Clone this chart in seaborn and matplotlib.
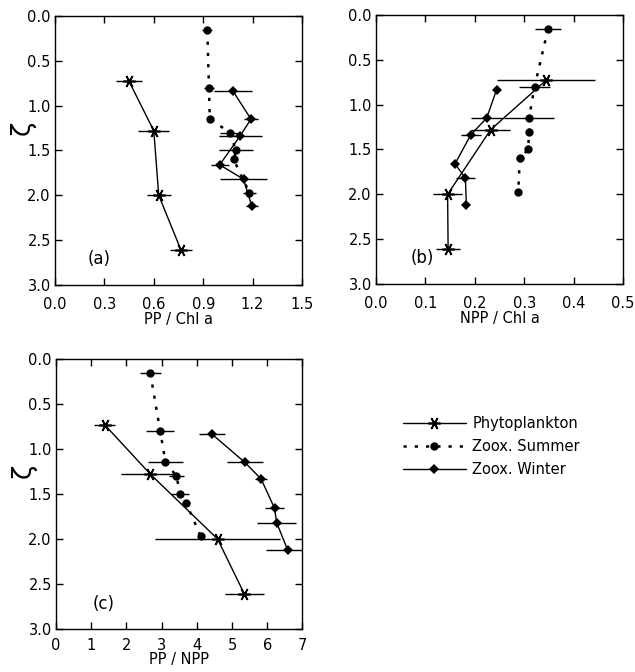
import matplotlib
matplotlib.use("Agg")
import matplotlib.pyplot as plt
import seaborn as sns
import pandas as pd

# Normalised depth (zeta) of each sampling level
phyto_z = [0.73, 1.28, 2.00, 2.61]
summer_z = [0.16, 0.80, 1.145, 1.30, 1.50, 1.60, 1.97]
winter_z = [0.835, 1.15, 1.335, 1.66, 1.82, 2.12]

# (a) PP / Chl a
a_phyto = [0.45, 0.60, 0.63, 0.765]
a_phyto_err = [0.08, 0.095, 0.073, 0.067]
a_summer = [0.925, 0.935, 0.94, 1.06, 1.10, 1.085, 1.18]
a_summer_err = [0.03, 0.03, 0.0, 0.06, 0.105, 0.0, 0.04]
a_winter = [1.08, 1.19, 1.125, 1.0, 1.145, 1.195]
a_winter_err = [0.115, 0.04, 0.13, 0.055, 0.14, 0.035]

# (b) NPP / Chl a
b_phyto = [0.344, 0.232, 0.145, 0.146]
b_phyto_err = [0.10, 0.04, 0.03, 0.025]
b_summer = [0.348, 0.321, 0.310, 0.310, 0.308, 0.291, 0.288]
b_summer_err = [0.026, 0.031, 0.05, 0.004, 0.0, 0.008, 0.0]
b_winter = [0.244, 0.224, 0.192, 0.160, 0.181, 0.183]
b_winter_err = [0.005, 0.031, 0.02, 0.007, 0.02, 0.0]

# (c) PP / NPP
c_phyto = [1.38, 2.68, 4.59, 5.35]
c_phyto_err = [0.31, 0.82, 1.78, 0.55]
c_summer = [2.68, 2.96, 3.11, 3.42, 3.53, 3.70, 4.11]
c_summer_err = [0.29, 0.40, 0.50, 0.22, 0.26, 0.12, 0.0]
c_winter = [4.43, 5.37, 5.83, 6.21, 6.27, 6.58]
c_winter_err = [0.36, 0.50, 0.17, 0.27, 0.56, 0.60]

series_names = ["Phytoplankton", "Zoox. Summer", "Zoox. Winter"]

panels = [
    dict(tag="(a)", xlabel="PP / Chl a", xlim=(0, 1.5),
         xticks=[0.0, 0.3, 0.6, 0.9, 1.2, 1.5], fmt="{:.1f}", tagpos=(0.27, 2.71),
         pad=9, labelpad=0,
         data=[(a_phyto, a_phyto_err), (a_summer, a_summer_err), (a_winter, a_winter_err)]),
    dict(tag="(b)", xlabel="NPP / Chl a", xlim=(0, 0.5),
         xticks=[0.0, 0.1, 0.2, 0.3, 0.4, 0.5], fmt="{:.1f}", tagpos=(0.093, 2.71),
         pad=9, labelpad=0,
         data=[(b_phyto, b_phyto_err), (b_summer, b_summer_err), (b_winter, b_winter_err)]),
    dict(tag="(c)", xlabel="PP / NPP", xlim=(0, 7),
         xticks=[0, 1, 2, 3, 4, 5, 6, 7], fmt="{:d}", tagpos=(1.35, 2.72),
         pad=6.5, labelpad=-0.5,
         data=[(c_phyto, c_phyto_err), (c_summer, c_summer_err), (c_winter, c_winter_err)]),
]

yticks = [0.0, 0.5, 1.0, 1.5, 2.0, 2.5, 3.0]

sns.set_style("ticks")
plt.rcParams["font.family"] = ["DejaVu Sans"]
plt.rcParams["xtick.direction"] = "in"
plt.rcParams["ytick.direction"] = "in"
plt.rcParams["text.color"] = "black"
plt.rcParams["axes.labelcolor"] = "black"
plt.rcParams["xtick.color"] = "black"
plt.rcParams["ytick.color"] = "black"
plt.rcParams["axes.edgecolor"] = "black"

styles = [
    dict(marker=(6, 2, 90), markersize=9, linestyle="-", linewidth=1.0,
         markeredgewidth=1.2),
    dict(marker="o", markersize=6, linestyle=(0, (1.3, 3.2)), linewidth=1.8,
         markeredgewidth=0),
    dict(marker="D", markersize=5, linestyle="-", linewidth=1.0,
         markeredgewidth=0),
]
depths = [phyto_z, summer_z, winter_z]

fig = plt.figure(figsize=(6.35, 6.72), dpi=100)
positions = [
    [0.0866, 0.5759, 0.389, 0.4003],
    [0.5921, 0.5774, 0.389, 0.4003],
    [0.0882, 0.0640, 0.388, 0.4018],
]

handles = None
for pos, p in zip(positions, panels):
    ax = fig.add_axes(pos)
    for (xv, xe), z, name, st in zip(p["data"], depths, series_names, styles):
        df = pd.DataFrame({"x": xv, "z": z})
        ax.errorbar(xv, z, xerr=xe, fmt="none", ecolor="black",
                    elinewidth=1.0, capsize=0)
        sns.lineplot(data=df, x="x", y="z", sort=False, estimator=None,
                     color="black", markeredgecolor="black", label=name,
                     ax=ax, **st)
    if handles is None:
        handles, labels = ax.get_legend_handles_labels()
    ax.get_legend().remove()

    ax.set_xlim(*p["xlim"])
    ax.set_ylim(3.0, 0.0)
    ax.set_xticks(p["xticks"])
    ax.set_xticklabels([p["fmt"].format(t) for t in p["xticks"]])
    ax.set_yticks(yticks)
    ax.set_yticklabels([f"{t:.1f}" for t in yticks])
    ax.tick_params(axis="both", which="major", length=5, width=1.0,
                   labelsize=10.5, top=True, right=True, colors="black")
    ax.tick_params(axis="x", pad=p["pad"])
    ax.tick_params(axis="y", pad=3)
    for s in ax.spines.values():
        s.set_linewidth(1.0)
        s.set_color("black")
    ax.set_xlabel(p["xlabel"], fontsize=10.5, labelpad=p["labelpad"])
    ax.set_ylabel("")
    if p["tag"] != "(b)":
        ax.set_ylabel("ζ", fontsize=19, rotation=90)
        ax.yaxis.set_label_coords(-0.08, 0.585)
    ax.text(*p["tagpos"], p["tag"], fontsize=12, ha="center", va="center")

fig.legend(handles, labels, loc="upper left", bbox_to_anchor=(0.6346, 0.381),
           frameon=False, fontsize=10.5, handlelength=4.3, handletextpad=0.45,
           labelspacing=0.55, borderpad=0, borderaxespad=0, numpoints=1)

fig.savefig("out.png", dpi=100)
